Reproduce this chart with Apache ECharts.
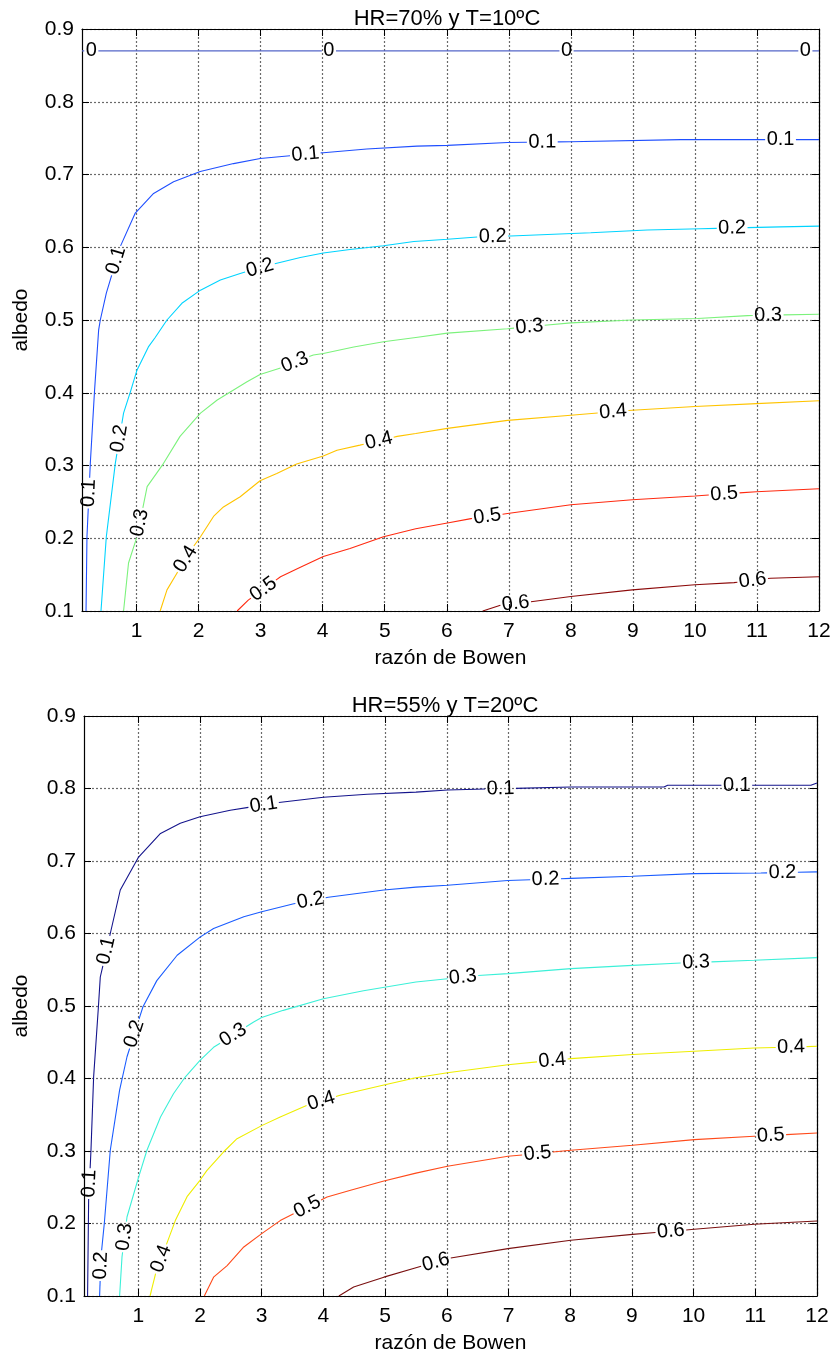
<!DOCTYPE html>
<html><head><meta charset="utf-8">
<script src="https://cdn.jsdelivr.net/npm/echarts@6/dist/echarts.min.js"></script>
<style>html,body{margin:0;padding:0;background:#fff}#c{width:834px;height:1358px}</style>
</head><body><div id="c"></div>
<script>
// ---------------- DATA ----------------
const xTicks = [1,2,3,4,5,6,7,8,9,10,11,12];
const xMin = 0.12, xMax = 12, yMin = 0.1, yMax = 0.9, yStep = 0.1;
const titles = ['HR=70% y T=10ºC', 'HR=55% y T=20ºC'];
const xName = 'razón de Bowen';
const yName = 'albedo';

// Panel 1 (HR=70%, T=10ºC) contour lines [razón de Bowen, albedo]
const top_0  = [[0.12,0.87],[12,0.87]];
const top_01 = [[0.185,0.1],[0.20,0.202],[0.254,0.303],[0.323,0.404],[0.388,0.486],[0.415,0.5],[0.512,0.537],[0.737,0.601],[0.979,0.647],[1.274,0.674],[1.596,0.690],[2.026,0.704],[2.563,0.715],[2.993,0.722],[4.01,0.730],[4.71,0.735],[5.52,0.739],[6.01,0.740],[6.98,0.744],[8.0,0.745],[9.77,0.748],[12,0.748]];
const top_02 = [[0.426,0.1],[0.512,0.202],[0.657,0.303],[0.79,0.372],[0.91,0.404],[1.006,0.431],[1.19,0.463],[1.30,0.476],[1.49,0.5],[1.73,0.523],[2.03,0.541],[2.35,0.555],[2.67,0.564],[3.26,0.578],[3.64,0.586],[4.01,0.592],[4.44,0.597],[4.98,0.602],[5.47,0.608],[6.01,0.611],[6.49,0.614],[7.03,0.6155],[8.32,0.620],[9.23,0.6237],[10.09,0.6255],[11.38,0.628],[12,0.629]];
const top_03 = [[0.79,0.1],[0.87,0.166],[1.006,0.202],[1.17,0.271],[1.435,0.303],[1.70,0.340],[2.03,0.372],[2.30,0.390],[2.51,0.401],[2.78,0.415],[2.99,0.425],[3.32,0.434],[3.85,0.452],[4.01,0.454],[4.50,0.463],[4.98,0.470],[5.5,0.476],[6.01,0.482],[6.98,0.488],[8.0,0.496],[8.99,0.5],[10.04,0.502],[10.85,0.506],[12,0.508]];
const top_04 = [[1.38,0.1],[1.49,0.129],[1.65,0.152],[1.87,0.183],[2.03,0.202],[2.24,0.230],[2.40,0.243],[2.67,0.257],[2.99,0.279],[3.26,0.289],[3.58,0.302],[4.01,0.313],[4.23,0.321],[4.60,0.328],[5.20,0.340],[5.5,0.344],[6.01,0.351],[6.98,0.362],[8.0,0.369],[8.99,0.376],[10.0,0.381],[10.99,0.385],[12,0.389]];
const top_05 = [[2.62,0.1],[2.80,0.115],[3.32,0.147],[3.64,0.160],[4.01,0.175],[4.44,0.186],[4.98,0.202],[5.5,0.213],[6.01,0.221],[6.39,0.227],[6.98,0.234],[8.0,0.246],[8.99,0.253],[10.0,0.258],[10.99,0.264],[12,0.268]];
const top_06 = [[6.58,0.1],[6.87,0.108],[7.38,0.113],[8.0,0.120],[8.99,0.129],[10.0,0.136],[10.63,0.139],[11.22,0.145],[12,0.147]];
// contour label spots (panel 1)
const topLab_0  = [[0.27,0.87],[4.1,0.87],[7.93,0.87],[11.78,0.87]];
const topLab_01 = [[0.243,0.262],[0.657,0.582],[3.72,0.728],[7.54,0.744],[11.38,0.747]];
const topLab_02 = [[0.71,0.337],[2.99,0.571],[6.74,0.614],[10.6,0.626]];
const topLab_03 = [[1.06,0.221],[3.56,0.44],[7.33,0.492],[11.18,0.508]];
const topLab_04 = [[1.78,0.172],[4.90,0.335],[8.68,0.374]];
const topLab_05 = [[3.07,0.127],[6.65,0.232],[10.47,0.262]];
const topLab_06 = [[7.11,0.111],[10.93,0.1426]];

// Panel 2 (HR=55%, T=20ºC)
const bot_01 = [[0.178,0.1],[0.195,0.232],[0.233,0.301],[0.276,0.402],[0.352,0.497],[0.384,0.54],[0.546,0.600],[0.708,0.660],[1.005,0.7055],[1.36,0.738],[1.68,0.752],[2.0,0.761],[2.49,0.770],[3.30,0.781],[4.0,0.788],[4.71,0.792],[5.5,0.795],[6.01,0.798],[8.01,0.802],[9.52,0.802],[9.58,0.8044],[11.9,0.8044],[12,0.8076]];
const bot_02 = [[0.373,0.1],[0.395,0.154],[0.449,0.2],[0.546,0.301],[0.697,0.384],[0.817,0.430],[1.076,0.499],[1.30,0.535],[1.63,0.570],[2.0,0.595],[2.22,0.607],[2.71,0.623],[3.0,0.630],[3.52,0.641],[4.08,0.650],[4.98,0.660],[5.5,0.664],[6.01,0.6665],[6.99,0.673],[8.01,0.676],[9.01,0.679],[10.01,0.6826],[11.09,0.6835],[12,0.685]];
const bot_03 = [[0.697,0.1],[0.736,0.154],[0.817,0.209],[1.005,0.264],[1.14,0.301],[1.36,0.347],[1.57,0.379],[1.76,0.402],[2.0,0.425],[2.22,0.443],[2.87,0.478],[3.0,0.484],[3.35,0.494],[4.0,0.510],[4.65,0.521],[5.5,0.533],[6.5,0.542],[6.99,0.5447],[8.01,0.5516],[9.01,0.556],[9.8,0.5593],[10.98,0.563],[12,0.5667]];
const bot_04 = [[1.19,0.1],[1.28,0.131],[1.60,0.204],[1.79,0.237],[2.0,0.2596],[2.11,0.273],[2.38,0.2986],[2.60,0.317],[3.0,0.335],[3.30,0.347],[3.73,0.363],[4.27,0.377],[4.98,0.391],[5.5,0.401],[6.01,0.408],[6.99,0.419],[8.01,0.4274],[9.01,0.433],[10.01,0.4375],[10.98,0.442],[12,0.4444]];
const bot_05 = [[2.07,0.1],[2.22,0.126],[2.44,0.142],[2.71,0.1676],[3.0,0.186],[3.30,0.204],[4.06,0.2366],[4.44,0.2458],[4.98,0.2586],[5.5,0.2695],[6.01,0.279],[6.99,0.2927],[8.01,0.301],[9.01,0.308],[10.01,0.3157],[10.98,0.3203],[12,0.3248]];
const bot_06 = [[4.25,0.1],[4.49,0.1124],[4.98,0.126],[5.5,0.139],[6.01,0.1516],[6.99,0.1654],[8.01,0.177],[9.01,0.185],[10.01,0.192],[10.98,0.199],[12,0.2034]];
const botLab_01 = [[0.222,0.255],[0.438,0.577],[3.03,0.778],[6.87,0.801],[10.7,0.802]];
const botLab_02 = [[0.373,0.142],[0.92,0.462],[3.79,0.646],[7.6,0.677],[11.44,0.686]];
const botLab_03 = [[0.817,0.181],[2.54,0.4596],[6.26,0.54],[10.04,0.561]];
const botLab_04 = [[1.38,0.151],[3.98,0.365],[7.71,0.425],[11.58,0.444]];
const botLab_05 = [[3.74,0.2228],[7.47,0.2964],[11.25,0.3217]];
const botLab_06 = [[5.83,0.145],[9.63,0.1906]];

// ---------------- STYLE / BUILD ----------------
const FONT = '"Liberation Sans", Arial, sans-serif';
const panels = [
  { grid:{left:82, top:29, width:737, height:582}, titleTop:8, titleLeft:447, nameGapY:50,
    lines:[
      {text:'0',   color:'#5566c8', pts:top_0,  lab:topLab_0},
      {text:'0.1', color:'#1f4fff', pts:top_01, lab:topLab_01},
      {text:'0.2', color:'#00d4ff', pts:top_02, lab:topLab_02},
      {text:'0.3', color:'#7cf27c', pts:top_03, lab:topLab_03},
      {text:'0.4', color:'#ffc400', pts:top_04, lab:topLab_04},
      {text:'0.5', color:'#ff2a10', pts:top_05, lab:topLab_05},
      {text:'0.6', color:'#8c0a0a', pts:top_06, lab:topLab_06}
    ]},
  { grid:{left:84, top:716, width:733, height:580}, titleTop:695, titleLeft:445, nameGapY:52,
    lines:[
      {text:'0.1', color:'#14148c', pts:bot_01, lab:botLab_01},
      {text:'0.2', color:'#1a5cff', pts:bot_02, lab:botLab_02},
      {text:'0.3', color:'#3cf0d8', pts:bot_03, lab:botLab_03},
      {text:'0.4', color:'#eeee00', pts:bot_04, lab:botLab_04},
      {text:'0.5', color:'#ff4a1a', pts:bot_05, lab:botLab_05},
      {text:'0.6', color:'#7a1010', pts:bot_06, lab:botLab_06}
    ]}
];

const chart = echarts.init(document.getElementById('c'), null, {renderer:'canvas'});
const grid = [], xAxis = [], yAxis = [], title = [];
const gridLine = {show:true, lineStyle:{color:'#6a6a6a', width:1.2, type:[2,2]}};
const axisLine = {show:true, onZero:false, lineStyle:{color:'#000', width:1.2}};
panels.forEach((p, g) => {
  grid.push(Object.assign({containLabel:false, show:false}, p.grid));
  title.push({text:titles[g], left:p.titleLeft, top:p.titleTop, textAlign:'center', padding:0,
    textStyle:{fontFamily:FONT, fontSize:22, fontWeight:'normal', color:'#000'}});
  xAxis.push({type:'value', gridIndex:g, min:xMin, max:xMax, position:'bottom',
    name:xName, nameLocation:'middle', nameGap:37,
    nameTextStyle:{fontFamily:FONT, fontSize:21, color:'#000'},
    axisLine, axisTick:{show:true, inside:true, length:7, customValues:xTicks, lineStyle:{color:'#000'}},
    axisLabel:{show:true, customValues:xTicks, margin:10, fontFamily:FONT, fontSize:21, color:'#000'},
    splitLine:gridLine});
  xAxis.push({type:'value', gridIndex:g, min:xMin, max:xMax, position:'top',
    axisLine, axisTick:{show:true, inside:true, length:7, customValues:xTicks, lineStyle:{color:'#000'}},
    axisLabel:{show:false}, splitLine:{show:false}});
  yAxis.push({type:'value', gridIndex:g, min:yMin, max:yMax, interval:yStep, position:'left',
    name:yName, nameLocation:'middle', nameGap:p.nameGapY, nameRotate:90,
    nameTextStyle:{fontFamily:FONT, fontSize:21, color:'#000'},
    axisLine, axisTick:{show:true, inside:true, length:7, lineStyle:{color:'#000'}},
    axisLabel:{show:true, margin:8, fontFamily:FONT, fontSize:21, color:'#000', formatter:v=>v.toFixed(1)},
    splitLine:gridLine});
  yAxis.push({type:'value', gridIndex:g, min:yMin, max:yMax, interval:yStep, position:'right',
    axisLine, axisTick:{show:true, inside:true, length:7, lineStyle:{color:'#000'}},
    axisLabel:{show:false}, splitLine:{show:false}});
});
chart.setOption({animation:false, backgroundColor:'#fff', grid, xAxis, yAxis, title, series:[]});

const cv = document.createElement('canvas').getContext('2d');
const LABEL_SIZE = 20;
cv.font = LABEL_SIZE + 'px ' + FONT;

function build(line, finder) {
  const pts = line.pts;
  const P = pts.map(p => chart.convertToPixel(finder, p));
  const S = [0];
  for (let i = 1; i < P.length; i++) S.push(S[i-1] + Math.hypot(P[i][0]-P[i-1][0], P[i][1]-P[i-1][1]));
  const total = S[S.length-1];
  const half = cv.measureText(line.text).width / 2 + 1.5;
  const at = a => {
    a = Math.max(0, Math.min(total, a));
    let i = 0; while (i < P.length-2 && S[i+1] < a) i++;
    const len = S[i+1]-S[i]; const t = len > 0 ? (a-S[i])/len : 0;
    return {px:[P[i][0]+t*(P[i+1][0]-P[i][0]), P[i][1]+t*(P[i+1][1]-P[i][1])],
            d:[pts[i][0]+t*(pts[i+1][0]-pts[i][0]), pts[i][1]+t*(pts[i+1][1]-pts[i][1])]};
  };
  const gaps = [], items = [];
  line.lab.forEach(l => {
    const L = chart.convertToPixel(finder, l);
    let best = Infinity, arc = 0;
    for (let i = 0; i < P.length-1; i++) {
      const ax=P[i][0], ay=P[i][1], vx=P[i+1][0]-ax, vy=P[i+1][1]-ay, l2=vx*vx+vy*vy;
      let t = l2 > 0 ? ((L[0]-ax)*vx + (L[1]-ay)*vy)/l2 : 0; t = Math.max(0, Math.min(1, t));
      const d = Math.hypot(L[0]-(ax+t*vx), L[1]-(ay+t*vy));
      if (d < best) { best = d; arc = S[i] + t*Math.sqrt(l2); }
    }
    const a0 = at(arc-half), a1 = at(arc+half);
    let ang = Math.atan2(-(a1.px[1]-a0.px[1]), a1.px[0]-a0.px[0]) * 180/Math.PI;
    if (ang > 90) ang -= 180; if (ang <= -90) ang += 180;
    const mid = chart.convertFromPixel(finder, [(a0.px[0]+a1.px[0])/2, (a0.px[1]+a1.px[1])/2]);
    gaps.push([arc-half, arc+half]);
    items.push({value:mid, label:{rotate:ang, formatter:line.text}});
  });
  const ev = [];
  P.forEach((p, i) => ev.push({s:S[i], k:1, i}));
  gaps.forEach(g => { ev.push({s:g[0], k:0}); ev.push({s:g[1], k:2}); });
  ev.sort((a, b) => a.s - b.s || a.k - b.k);
  const inGap = s => gaps.some(g => s > g[0] && s < g[1]);
  const segs = []; let cur = [];
  ev.forEach(e => {
    if (e.k === 1) { if (!inGap(e.s)) cur.push(pts[e.i]); }
    else if (e.k === 0) { if (e.s > 0) cur.push(at(e.s).d); if (cur.length > 1) segs.push(cur); cur = []; }
    else { if (e.s < total) cur.push(at(e.s).d); }
  });
  if (cur.length > 1) segs.push(cur);
  return {segs, items};
}

const series = [];
panels.forEach((p, g) => {
  const finder = {xAxisIndex:2*g, yAxisIndex:2*g};
  p.lines.forEach(line => {
    const r = build(line, finder);
    r.segs.forEach(seg => series.push({type:'line', xAxisIndex:2*g, yAxisIndex:2*g, data:seg,
      showSymbol:false, symbol:'none', smooth:false, z:3, silent:true,
      lineStyle:{color:line.color, width:1.1}}));
    series.push({type:'scatter', xAxisIndex:2*g, yAxisIndex:2*g, data:r.items, symbolSize:1, z:5, silent:true,
      itemStyle:{color:'rgba(0,0,0,0)'},
      label:{show:true, position:'inside', align:'center', verticalAlign:'middle',
        fontFamily:FONT, fontSize:LABEL_SIZE, color:'#000', textBorderWidth:0, opacity:1}});
  });
});
chart.setOption({series});
</script></body></html>
